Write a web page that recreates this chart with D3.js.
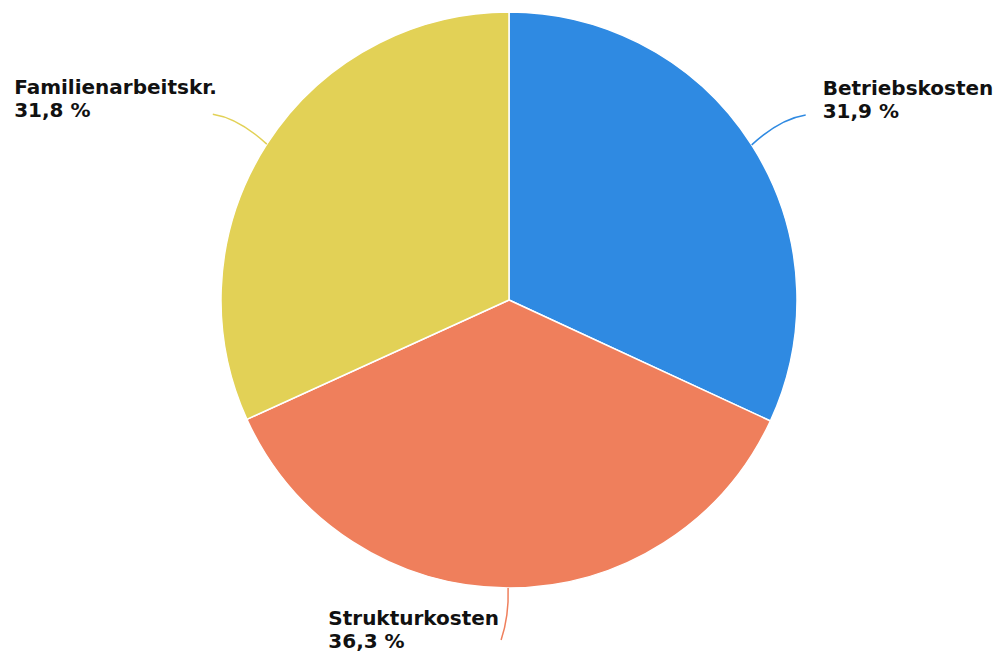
<!DOCTYPE html>
<html>
<head>
<meta charset="utf-8">
<script src="https://cdn.jsdelivr.net/npm/d3@7"></script>
<style>
body{margin:0;background:#fff}
</style>
</head>
<body>
<svg id="chart"></svg>
<script>
const categories = ['Betriebskosten','Strukturkosten','Familienarbeitskr.']
const values = [31.9,36.3,31.8]
const colours = ['#2f8ae2','#ef7f5c','#e2d156']

const wdth = 999
const hght = 652
const cx = 509, cy = 300
const radius = 288

const svg = d3.select('#chart')
	.attr('width',wdth)
	.attr('height',hght)
	.attr('font-family','DejaVu Sans')

const color = d3.scaleOrdinal().domain(categories).range(colours)

const pie = d3.pie().value(d=>d[1]).sort(null)
const data_ready = pie(categories.map((c,i)=>[c,values[i]]))

const chart = svg.append('g')
	.attr('transform',`translate(${cx},${cy})`)

const arc = d3.arc().innerRadius(0).outerRadius(radius)

chart.selectAll('.seg')
	.data(data_ready)
	.enter()
	.append('path')
	.classed('seg',true)
	.attr('d',arc)
	.attr('fill',d=>color(d.data[0]))
	.attr('stroke','#fff')
	.attr('stroke-width',1.5)
	.attr('stroke-linejoin','round')

// connector + label placement, relative to the slice edge point
const place = d=>{
	const a = (d.startAngle + d.endAngle) / 2
	const p = [Math.sin(a) * radius, -Math.cos(a) * radius]
	const s = Math.sin(a)
	if(Math.abs(s) < 0.3){
		// bottom label, block right edge near the connector end
		return {p, q:[p[0] + 1, p[1] + 28], e:[p[0] - 7, p[1] + 52], tx:p[0] - 9, ty:p[1] + 37, side:'end'}
	}
	const dir = s > 0 ? 1 : -1
	return {p, q:[p[0] + dir * 28, p[1] - 26], e:[p[0] + dir * 54, p[1] - 30], tx:p[0] + (dir > 0 ? 71 : -50), ty:p[1] - 50, side:dir > 0 ? 'start' : 'end'}
}

const labels = chart.selectAll('.lbl')
	.data(data_ready)
	.enter()
	.append('g')
	.classed('lbl',true)

labels.append('path')
	.attr('d',d=>{
		const l = place(d)
		return `M${l.p[0]},${l.p[1]}Q${l.q[0]},${l.q[1]} ${l.e[0]},${l.e[1]}`
	})
	.attr('fill','none')
	.attr('stroke',d=>color(d.data[0]))
	.attr('stroke-width',1.5)

const txt = labels.append('text')
	.attr('font-size','20px')
	.attr('font-weight','bold')
	.attr('fill','#111')

txt.append('tspan')
	.attr('x',0)
	.attr('y',d=>place(d).ty)
	.text(d=>d.data[0])

txt.append('tspan')
	.attr('x',0)
	.attr('dy',23)
	.text(d=>d3.format('.1f')(d.data[1]).replace('.',',') + ' %')

// left-aligned block; shift blocks on the left side by their width
txt.each(function(d){
	const l = place(d)
	const w = d3.max(d3.select(this).selectAll('tspan').nodes(),n=>n.getComputedTextLength())
	const x0 = l.side == 'start' ? l.tx : l.tx - w
	d3.select(this).selectAll('tspan').attr('x',x0)
})
</script>
</body>
</html>
